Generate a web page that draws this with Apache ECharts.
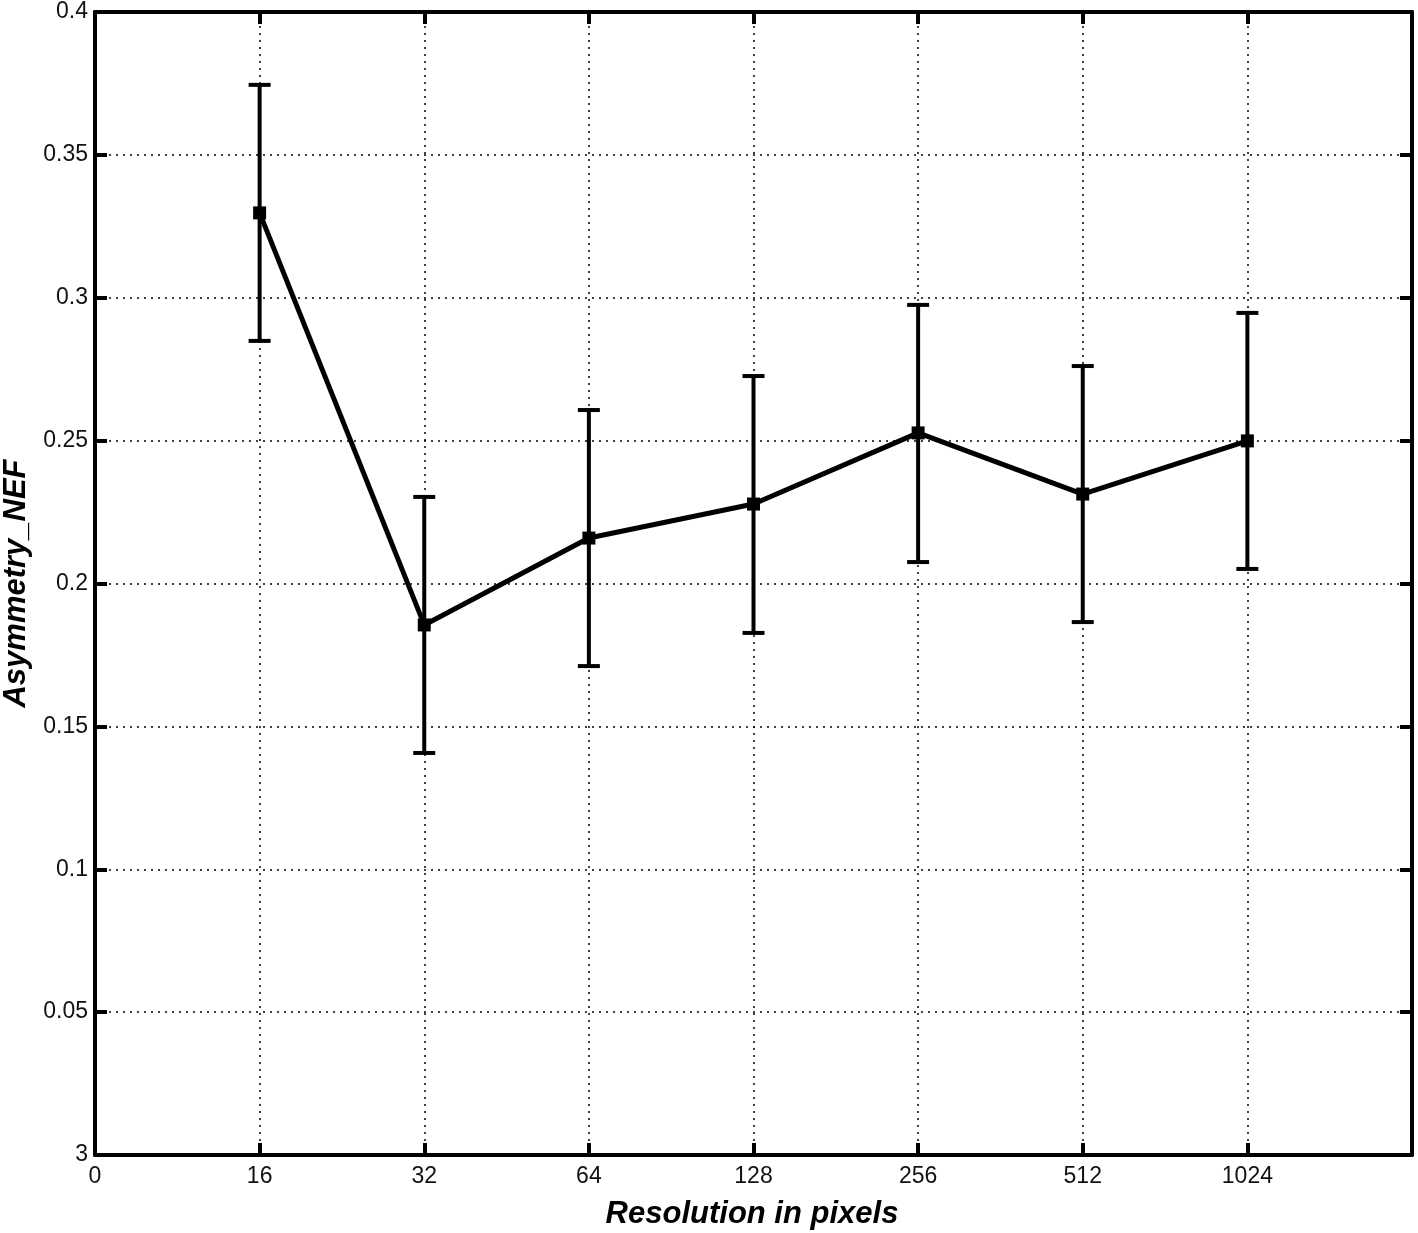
<!DOCTYPE html>
<html>
<head>
<meta charset="utf-8">
<script src="https://cdn.jsdelivr.net/npm/echarts@6/dist/echarts.min.js"></script>
<style>
html,body{margin:0;padding:0;background:#fff;}
#chart{width:1418px;height:1233px;}
</style>
</head>
<body>
<div id="chart"></div>
<script>
// x positions are category slots 0..8, labels below
var xLabels = ['0', '16', '32', '64', '128', '256', '512', '1024', ''];
var yLabels = ['3', '0.05', '0.1', '0.15', '0.2', '0.25', '0.3', '0.35', '0.4'];
var slots = [1, 2, 3, 4, 5, 6, 7];
var meanVals = [0.3297, 0.1855, 0.2159, 0.2278, 0.2527, 0.2313, 0.2499];
var lowVals  = [0.2849, 0.1407, 0.1711, 0.1827, 0.2075, 0.1865, 0.2051];
var highVals = [0.3745, 0.2303, 0.2607, 0.2726, 0.2975, 0.2761, 0.2947];

var lineData = [], errData = [];
for (var i = 0; i < slots.length; i++) {
    lineData.push([slots[i], meanVals[i]]);
    errData.push([slots[i], lowVals[i], highVals[i]]);
}

var tickStyle = {show: true, inside: true, length: 12, lineStyle: {color: '#000', width: 4}};
var lineStyleAxis = {show: true, onZero: false, lineStyle: {color: '#000', width: 4}};
var gridDots = {show: true, lineStyle: {color: '#000', width: 1.5, type: [2, 5]}};
var font = 'Liberation Sans';

var chart = echarts.init(document.getElementById('chart'));
var option = {
    animation: false,
    backgroundColor: '#fff',
    grid: {left: 95, top: 12, right: 6, bottom: 78, containLabel: false, outerBoundsMode: 'none'},
    // x axis title placed directly
    graphic: [{
        type: 'text', x: 752, y: 1214,
        style: {
            text: 'Resolution in pixels', fill: '#000', font: 'italic bold 31px "Liberation Sans"',
            align: 'center', verticalAlign: 'middle'
        }
    }],
    xAxis: [{
        type: 'value', min: 0, max: 8, interval: 1, position: 'bottom',
        axisLine: lineStyleAxis, axisTick: tickStyle,
        splitLine: gridDots,
        axisLabel: {
            color: '#111', fontFamily: font, fontSize: 23, margin: 10,
            formatter: function (v) { return xLabels[Math.round(v)]; }
        }
    }, {
        type: 'value', min: 0, max: 8, interval: 1, position: 'top',
        axisLine: lineStyleAxis, axisTick: tickStyle,
        splitLine: {show: false}, axisLabel: {show: false}
    }],
    yAxis: [{
        type: 'value', min: 0, max: 0.4, interval: 0.05, position: 'left',
        axisLine: lineStyleAxis, axisTick: tickStyle,
        splitLine: gridDots,
        axisLabel: {
            color: '#111', fontFamily: font, fontSize: 23, margin: 7,
            formatter: function (v) { return yLabels[Math.round(v / 0.05)]; }
        },
        name: 'Asymmetry_NEF', nameLocation: 'middle', nameGap: 58,
        nameTextStyle: {color: '#000', fontFamily: font, fontSize: 31, fontWeight: 'bold', fontStyle: 'italic'}
    }, {
        type: 'value', min: 0, max: 0.4, interval: 0.05, position: 'right',
        axisLine: lineStyleAxis, axisTick: tickStyle,
        splitLine: {show: false}, axisLabel: {show: false}
    }],
    series: [{
        type: 'custom',
        xAxisIndex: 0, yAxisIndex: 0,
        data: errData,
        renderItem: function (params, api) {
            var x = api.value(0);
            var lo = api.coord([x, api.value(1)]);
            var hi = api.coord([x, api.value(2)]);
            var cap = 11;
            var st = {stroke: '#000', lineWidth: 4};
            return {
                type: 'group',
                children: [
                    {type: 'line', shape: {x1: lo[0], y1: lo[1], x2: hi[0], y2: hi[1]}, style: st},
                    {type: 'line', shape: {x1: lo[0] - cap, y1: lo[1], x2: lo[0] + cap, y2: lo[1]}, style: st},
                    {type: 'line', shape: {x1: hi[0] - cap, y1: hi[1], x2: hi[0] + cap, y2: hi[1]}, style: st}
                ]
            };
        },
        z: 3
    }, {
        type: 'line',
        xAxisIndex: 0, yAxisIndex: 0,
        data: lineData,
        symbol: 'rect', symbolSize: 13,
        itemStyle: {color: '#000'},
        lineStyle: {color: '#000', width: 5},
        z: 4
    }]
};
chart.setOption(option);
</script>
</body>
</html>
